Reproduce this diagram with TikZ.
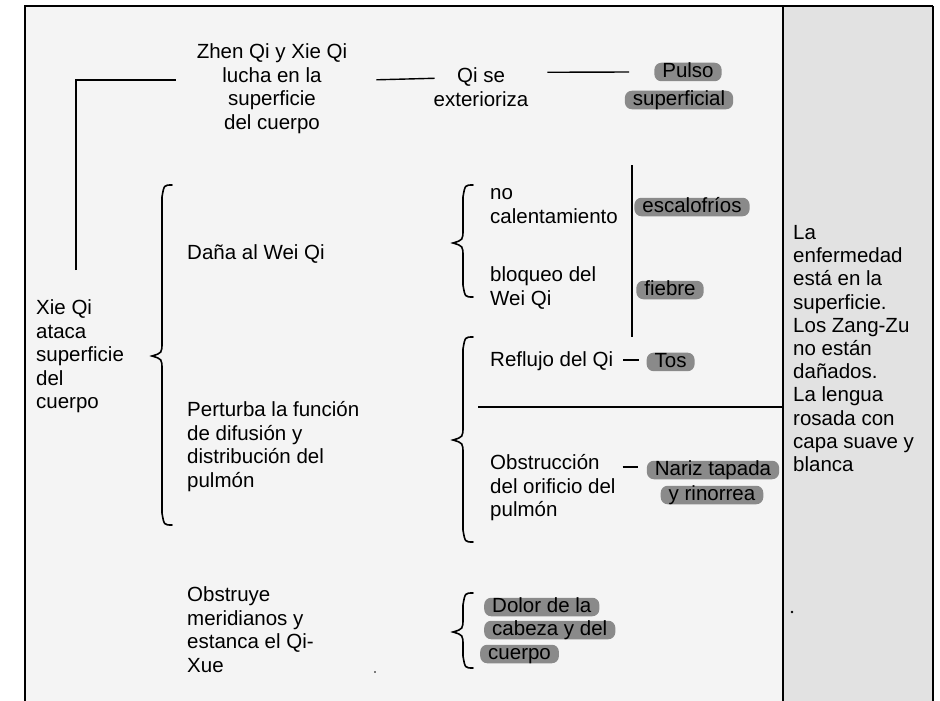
\documentclass[tikz,border=0pt]{standalone}
\usepackage{fontspec}
\setmainfont{Liberation Sans}
\usetikzlibrary{calc,positioning}
\definecolor{bgmain}{gray}{0.955}
\definecolor{bgright}{gray}{0.885}
\definecolor{hlgray}{gray}{0.54}
\newcommand\mybrace[4]{%
  \draw[bracestyle] (#1+10,#2) .. controls (#1+2,#2) .. (#1,#2+12) -- (#1,#3-14)
    .. controls (#1,#3-3) .. (#1-10,#3) .. controls (#1,#3+3) .. (#1,#3+14)
    -- (#1,#4-12) .. controls (#1+2,#4) .. (#1+10,#4);}
\begin{document}
\begin{tikzpicture}[x=1pt,y=-1pt,
  txt/.style={inner sep=0pt, align=left, anchor=north west, font=\fontsize{20.5}{23.5}\selectfont},
  ctxt/.style={txt, align=center, anchor=north},
  hl/.style={fill=hlgray, rounded corners=7pt, inner xsep=8pt, inner ysep=1.5pt,
    text height=13pt, text depth=2.5pt, font=\fontsize{20.5}{23.5}\selectfont},
  conn/.style={line width=1.4pt},
  frameline/.style={line width=2pt},
  bracestyle/.style={line width=1.6pt, line cap=round}]
\useasboundingbox (0,0) rectangle (940,701);
% background
\fill[white] (0,0) rectangle (940,701);
\fill[bgmain] (25,6) rectangle (783,701);
\fill[bgright] (783,6) rectangle (933,701);
% frame
\draw[frameline] (25,701) -- (25,6) -- (933,6);
\draw[line width=2.8pt] (933,6) -- (933,701);
\draw[line width=1.5pt] (783,6) -- (783,701);

% texts
\node[ctxt] (zhen) at (272,42) {\strut Zhen Qi y Xie Qi\\lucha en la\\superficie\\del cuerpo};
\node[ctxt] (qise) at (481,66) {\strut Qi se\\exterioriza};
\node[hl] (pulso) at (688,72) {Pulso};
\node[hl] (superf) at (679,100) {superficial};

\node[txt] (xie) at (36,298) {\strut Xie Qi\\ataca\\superficie\\del\\cuerpo};
\node[txt] (dana) at (187,243) {\strut Daña al Wei Qi};
\node[txt] (pert) at (187,400) {\strut Perturba la función\\de difusión y\\distribución del\\pulmón};
\node[txt] (obst) at (187,585) {\strut Obstruye\\meridianos y\\estanca el Qi-\\Xue};

\node[txt] (nocal) at (490,183) {\strut no\\calentamiento};
\node[txt] (bloq) at (490,265) {\strut bloqueo del\\Wei Qi};
\node[hl] (escal) at (692,207) {escalofríos};
\node[hl] (fiebre) at (670,290) {fiebre};

\node[txt] (reflujo) at (490,350) {\strut Reflujo del Qi};
\node[hl, right=33pt of reflujo] (tos) {Tos};
\node[txt] (obstr) at (490,453) {\strut Obstrucción\\del orificio del\\pulmón};
\node[hl] (nariz1) at (713,470) {Nariz tapada};
\node[hl] (nariz2) at (712,495) {y rinorrea};

\node[hl, anchor=west] (dolor1) at (484,607) {Dolor de la};
\node[hl, anchor=west] (dolor2) at (484,630) {cabeza y del};
\node[hl, anchor=west] (dolor3) at (480,654) {cuerpo};

\node[txt, font=\fontsize{20.5}{23.2}\selectfont] (nota) at (793,223)
  {\strut La\\enfermedad\\está en la\\superficie.\\Los Zang-Zu\\no están\\dañados.\\La lengua\\rosada con\\capa suave y\\blanca};

% connectors
\draw[conn] ($(xie.north west)+(40,-28)$) |- ($(zhen.west)+(-21,-8)$);
\draw[conn] ($(zhen.east)+(29,-8)$) -- ($(qise.west)+(1,-8)$);
\draw[conn] ($(qise.east)+(19,-14)$) -- ($(pulso.west)+(-25,0)$);
\draw[conn] ($(reflujo.east)+(10,-2)$) -- ($(tos.west)+(-7,-2)$);
\draw[conn] ($(obstr.north east)+(7,14)$) -- ($(nariz1.west)+(-9,-3)$);

% dividers
\draw[line width=1.5pt] (632,165) -- (632,337);
\draw[line width=1.5pt] (478,407) -- (783,407);

% braces
\mybrace{162}{185}{356}{525}
\mybrace{463}{185}{243}{297}
\mybrace{463}{337}{440}{542}
\mybrace{463}{593}{632}{668}

% specks
\fill (792,612) circle (1.3);
\fill (375,672) circle (0.8);
\end{tikzpicture}
\end{document}
